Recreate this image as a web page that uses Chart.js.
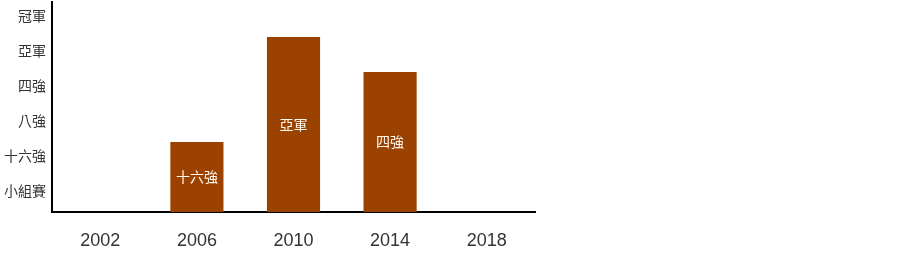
<!DOCTYPE html>
<html>
<head>
<meta charset="utf-8">
<script src="https://cdn.jsdelivr.net/npm/chart.js@4"></script>
<style>
  html, body { margin: 0; padding: 0; background: #ffffff; }
  #wrap { width: 900px; height: 257px; position: relative; }
</style>
</head>
<body>
<div id="wrap"><canvas id="c"></canvas></div>
<script>
const years = ['2002', '2006', '2010', '2014', '2018'];
const stageLabels = ['小組賽', '十六強', '八強', '四強', '亞軍', '冠軍'];
const stageValues = [null, 2, 5, 4, null];
const stageTickValues = [0.5, 1.5, 2.5, 3.5, 4.5, 5.5];

const barColor = '#9b4200';

const barTextPlugin = {
  id: 'barText',
  afterDatasetsDraw(chart) {
    const ctx = chart.ctx;
    const meta = chart.getDatasetMeta(0);
    ctx.save();
    ctx.fillStyle = '#fff8ee';
    ctx.font = '14px "Noto Sans CJK TC", sans-serif';
    ctx.textAlign = 'center';
    ctx.textBaseline = 'middle';
    meta.data.forEach((bar, i) => {
      const v = stageValues[i];
      if (v == null || v <= 0) return;
      const p = bar.getProps(['x', 'y', 'base'], true);
      ctx.fillText(stageLabels[v - 1], p.x, (p.y + p.base) / 2);
    });
    ctx.restore();
  }
};

new Chart(document.getElementById('c'), {
  type: 'bar',
  data: {
    labels: years,
    datasets: [{
      data: stageValues,
      backgroundColor: barColor,
      borderWidth: 0,
      barPercentage: 0.55,
      categoryPercentage: 1.0
    }]
  },
  options: {
    responsive: true,
    maintainAspectRatio: false,
    animation: false,
    layout: { padding: { top: 2, right: 365, left: 0, bottom: 0 } },
    plugins: { legend: { display: false }, tooltip: { enabled: false } },
    scales: {
      x: {
        type: 'category',
        offset: true,
        grid: { display: false, drawTicks: false },
        border: { display: true, color: '#000000', width: 2 },
        ticks: {
          color: '#333333',
          font: { family: '"Liberation Sans", "Noto Sans CJK TC", sans-serif', size: 18 },
          padding: 18,
          maxRotation: 0
        },
        afterFit(scale) {
          scale.height = 45;
          scale.paddingLeft = 0;
          scale.paddingRight = 0;
        }
      },
      y: {
        type: 'linear',
        min: 0,
        max: 6,
        grid: { display: false, drawTicks: false },
        border: { display: true, color: '#000000', width: 2 },
        afterBuildTicks(scale) {
          scale.ticks = stageTickValues.map(v => ({ value: v }));
        },
        ticks: {
          color: '#333333',
          font: { family: '"Noto Sans CJK TC", sans-serif', size: 14 },
          padding: 6,
          labelOffset: -4,
          callback(value) {
            const idx = stageTickValues.indexOf(value);
            return idx >= 0 ? stageLabels[idx] : '';
          }
        },
        afterFit(scale) {
          scale.width = 52;
          scale.paddingTop = 0;
          scale.paddingBottom = 0;
        }
      }
    }
  },
  plugins: [barTextPlugin]
});
</script>
</body>
</html>
